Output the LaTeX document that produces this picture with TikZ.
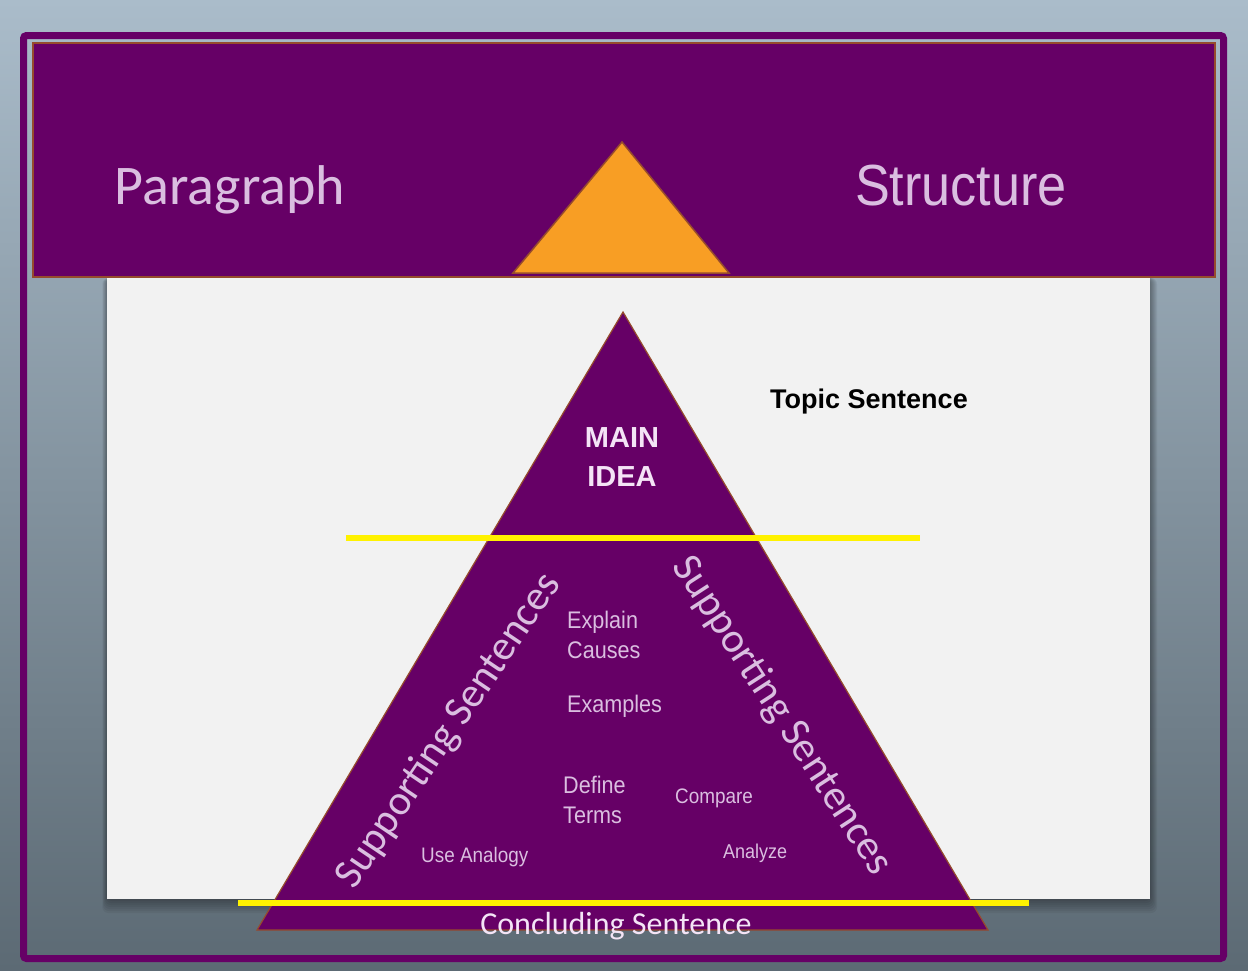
\documentclass[tikz,border=0pt]{standalone}
\usepackage{fontspec}
\setmainfont{Carlito}
\newfontfamily\arialfont{Liberation Sans}
\newfontfamily\narrowfont[FakeStretch=0.9]{Liberation Sans}
\definecolor{plum}{RGB}{102,0,102}
\definecolor{lavender}{RGB}{218,190,224}
\definecolor{paleplum}{RGB}{244,228,246}
\definecolor{rim}{RGB}{150,75,45}
\definecolor{amber}{RGB}{248,158,36}
\definecolor{paper}{RGB}{242,242,242}
\definecolor{slatetop}{RGB}{170,188,202}
\definecolor{slatebot}{RGB}{92,106,116}

\begin{document}
\begin{tikzpicture}[x=1pt,y=-1pt,
    title text/.style={font=\fontsize{56}{60}\selectfont,text=lavender},
    side text/.style={font=\fontsize{42}{46}\selectfont,text=lavender},
    idea text/.style={font=\narrowfont\fontsize{24}{30}\selectfont,text=lavender,align=left,anchor=west,inner sep=0pt},
    small text/.style={font=\narrowfont\fontsize{21}{25}\selectfont,text=lavender,anchor=west,inner sep=0pt},
    yellow line/.style={-,line width=6pt,yellow}]

  % slide background
  \shade[top color=slatetop,bottom color=slatebot] (0,0) rectangle (1248,970);
  \useasboundingbox (0,0) rectangle (1248,970);
  \draw[plum,line width=7pt,rounded corners=3pt] (23.5,35.5) rectangle (1223.5,958.5);

  % paper and header
  \foreach \s in {2,4,...,14}
    \fill[black,opacity=0.05,rounded corners=6pt] (107-\s/3,278) rectangle (1150+\s/2,899+\s);
  \fill[paper] (107,278) rectangle (1150,899);
  \draw[rim,fill=plum,line width=1.5pt] (33,43) rectangle (1215,277);

  \coordinate (peak) at (622,142);
  \coordinate (peak left) at (513,273);
  \coordinate (peak right) at (729,273);
  \draw[rim,fill=amber,line width=1.5pt] (peak) -- (peak left) -- (peak right) -- cycle;

  % pyramid
  \coordinate (apex) at (623,312);
  \coordinate (base left) at (257,930);
  \coordinate (base right) at (988,930);
  \draw[rim,fill=plum,line width=1.2pt] (apex) -- (base left) -- (base right) -- cycle;

  \coordinate (topic l) at (346,538);
  \coordinate (topic r) at (920,538);
  \coordinate (close l) at (238,903);
  \coordinate (close r) at (1029,903);
  \path[yellow line] (topic l) edge (topic r);
  \path[yellow line] (close l) edge (close r);

  \node[title text] (para) at (230,190) {Paragraph};
  \node[title text,font=\narrowfont\fontsize{58}{62}\selectfont] (struct) at (961,186) {Structure};
  \node[font=\arialfont\bfseries\fontsize{27}{30}\selectfont] (topic) at (869,402) {Topic Sentence};
  \node[font=\arialfont\bfseries\fontsize{29}{39}\selectfont,text=paleplum,align=center] (main) at (622,457) {MAIN\\IDEA};

  \node[side text,rotate=56] (supp left) at (449,731) {Supporting Sentences};
  \node[side text,rotate=-57] (supp right) at (782,716) {Supporting Sentences};

  \node[idea text] (explain) at (567,635) {Explain\\Causes};
  \node[idea text] (examples) at (567,706) {Examples};
  \node[idea text] (define) at (563,800) {Define\\Terms};
  \node[small text] (compare) at (675,798) {Compare};
  \node[small text] (analogy) at (421,857) {Use Analogy};
  \node[small text,font=\narrowfont\fontsize{20}{24}\selectfont] (analyze) at (723,853) {Analyze};

  \node[font=\fontsize{32}{36}\selectfont,text=paleplum] (conclude) at (616,926) {Concluding Sentence};
\end{tikzpicture}
\end{document}
